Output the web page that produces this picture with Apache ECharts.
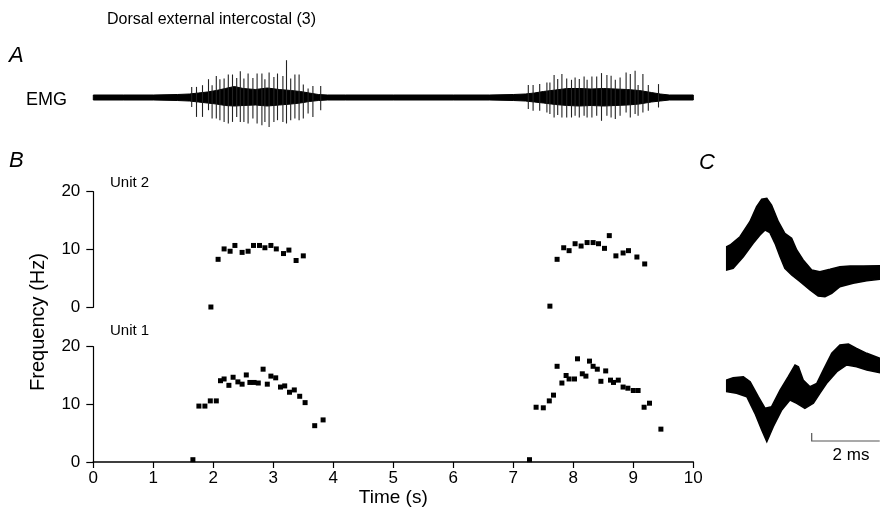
<!DOCTYPE html>
<html><head><meta charset="utf-8">
<script src="https://cdn.jsdelivr.net/npm/echarts@6/dist/echarts.min.js"></script>
<style>html,body{margin:0;padding:0;background:#fff}#c{width:880px;height:519px}</style>
</head><body><div id="c"></div>
<script>
// ---- Panel B: instantaneous frequency (Hz) vs time (s)
const unit2T = [1.96,2.08,2.18,2.28,2.36,2.48,2.58,2.67,2.77,2.86,2.96,3.05,3.17,3.26,3.38,3.50,
                7.61,7.73,7.84,7.93,8.03,8.13,8.23,8.33,8.42,8.52,8.60,8.71,8.83,8.92,9.06,9.19];
const unit2F = [0.05,8.3,10.1,9.7,10.7,9.5,9.7,10.7,10.7,10.3,10.7,10.1,9.3,9.9,8.1,8.9,
                0.2,8.3,10.3,9.8,11.0,10.6,11.2,11.2,11.0,10.2,12.4,8.9,9.4,9.8,8.7,7.5];
const unit1T = [1.66,1.76,1.86,1.95,2.05,2.12,2.18,2.26,2.33,2.41,2.48,2.55,2.61,2.68,2.75,2.83,2.90,2.96,3.04,3.12,3.19,3.27,3.35,3.44,3.53,3.69,3.83,
                7.27,7.38,7.50,7.60,7.67,7.73,7.81,7.88,7.93,8.02,8.07,8.15,8.21,8.27,8.33,8.40,8.46,8.54,8.62,8.67,8.75,8.83,8.91,9.00,9.08,9.18,9.27,9.46];
const unit1F = [0.4,9.7,9.7,10.6,10.6,14.1,14.4,13.3,14.7,13.9,13.5,15.1,13.8,13.8,13.7,16.1,13.5,14.9,14.6,13.0,13.2,12.1,12.5,11.4,10.3,6.3,7.3,
                0.4,9.5,9.4,10.6,11.6,16.6,13.7,15.0,14.4,14.4,17.9,15.3,14.9,17.5,16.6,16.1,14.0,15.8,14.2,13.8,14.2,13.0,12.8,12.4,12.4,9.5,10.2,5.7];
const timeTicks = [0,1,2,3,4,5,6,7,8,9,10];
const freqTicks = [0,10,20];

// ---- Panel A: EMG (arbitrary units) – background envelope and individual spikes
const emgEnvT    = [0,0.5,1.0,1.4,1.6,1.75,1.9,2.05,2.2,2.35,2.5,2.7,2.9,3.1,3.3,3.45,3.6,3.75,3.9,4.2,5,6,6.6,7.0,7.2,7.35,7.5,7.7,7.9,8.1,8.3,8.5,8.7,8.9,9.1,9.3,9.45,9.6,10];
const emgEnvUp   = [2.5,2.5,2.5,3,3.5,4.5,5.5,7,9,11,9,8,9.5,8,7,6,4.5,3,2.5,2.5,2.5,2.5,2.5,3,3.5,4.5,6,7.5,9,9,8.5,9,8.5,8,7,5,3.5,2.5,2.5];
const emgEnvDn   = [2.5,2.5,2.5,3,3.5,4.5,5.5,6.5,8,8.5,8,7.5,8.5,7.5,6.5,5.5,4,3,2.5,2.5,2.5,2.5,2.5,3,3.5,4.5,5.5,7,8,8.5,8,8.5,8,7.5,6.5,4.5,3.5,2.5,2.5];
const emgSpikeT  = [1.64,1.72,1.82,1.92,1.98,2.05,2.11,2.18,2.25,2.32,2.39,2.45,2.51,2.58,2.66,2.73,2.81,2.86,2.93,3.01,3.07,3.16,3.22,3.29,3.36,3.43,3.50,3.58,3.66,3.79,
                    7.25,7.33,7.44,7.56,7.61,7.68,7.74,7.81,7.89,7.97,8.03,8.10,8.18,8.23,8.31,8.39,8.47,8.56,8.63,8.70,8.78,8.88,8.95,9.03,9.08,9.16,9.25,9.42];
const emgSpikeUp = [10.6,10.6,12.3,18.3,12.3,21.6,18.3,19,23,23,19.6,26.3,19,24,19.6,24,24,18.3,25,20.6,24,21.6,37.3,19,23,23,13,9,11.6,11.6,
                    12.4,12.4,13.4,15,15,22.4,18.4,23.4,19,17.7,20,18.4,21,17.7,21,21,24.4,22.4,21.7,17.7,20,25,23.4,26.7,12.4,23.4,12.4,13.4];
const emgSpikeDn = [9.4,19.4,19.4,12.7,21,21,22.7,24.4,26,24.4,19.4,24.4,24.4,26,21,26,27.7,24.4,29.4,24.4,22.7,24.4,26,22.7,21,22.7,21,16,19.4,12.7,
                    11.6,13.3,13.3,15,16.6,20,17.6,20,20,20,18.3,20,18.3,20,20,18.3,23.3,18.3,20,21.6,18.3,15,20,16.6,18.3,15,13.3,10];

// ---- Panel C: superimposed spike waveforms (ms, arbitrary units) – envelope edges
const u2TopT = [0,0.10,0.39,0.68,0.88,1.03,1.18,1.32,1.52,1.71,1.91,2.06,2.25,2.50,2.74,3.04,3.33,3.63,4.02,4.50];
const u2TopV = [203.3,205,213.3,228.3,243.3,250.7,251.7,245,228.3,216.7,211.7,200,190,180,178.3,180.7,183.3,184,184,184.3];
const u2BotT = [0,0.19,0.49,0.78,0.98,1.13,1.27,1.42,1.57,1.71,1.91,2.16,2.45,2.69,2.89,3.09,3.33,3.72,4.12,4.50];
const u2BotV = [180,181.7,193.3,206.7,215,220,217.3,206.7,193.3,181.7,175,168.3,160,154,153.3,156.7,163.3,166.7,169.3,170.7];
const u1TopT = [0,0.19,0.49,0.69,0.93,1.13,1.32,1.57,1.81,2.01,2.11,2.25,2.45,2.65,2.84,3.09,3.33,3.58,3.82,4.12,4.50];
const u1TopV = [70,72.3,73.3,68.3,53.3,41.7,43.3,60,73.3,85,83.3,70,63.3,66.7,80,96.7,105,106,101.7,96.7,91.7];
const u1BotT = [0,0.29,0.59,0.83,1.03,1.18,1.37,1.62,1.86,2.06,2.30,2.55,2.74,2.94,3.24,3.53,3.82,4.12,4.50];
const u1BotV = [58.3,56.7,53.3,36.7,20,8.3,23.3,40,50,46.7,41.7,46.7,56.7,66.7,78.3,85,83.3,80,77.3];
const scaleBarMs = 2;

const FONT = '"Liberation Sans", Arial, Helvetica, sans-serif';
const chart = echarts.init(document.getElementById('c'), null, {renderer: 'canvas'});

function zip(a, b) { return a.map((v, i) => [v, b[i]]); }

function bandRender(topT, topV, botT, botV, color) {
  return function (params, api) {
    const pts = [];
    for (let i = 0; i < topT.length; i++) pts.push(api.coord([topT[i], topV[i]]));
    for (let i = botT.length - 1; i >= 0; i--) pts.push(api.coord([botT[i], botV[i]]));
    return {type: 'polygon', shape: {points: pts}, style: {fill: color, stroke: color, lineWidth: 1.5}};
  };
}

const hiddenX = (idx, max) => ({gridIndex: idx, type: 'value', min: 0, max: max, show: false});
const freqAxis = (idx) => ({
  gridIndex: idx, type: 'value', min: 0, max: 20, interval: 10,
  axisLine: {show: true, lineStyle: {color: '#000', width: 1.2}},
  axisTick: {show: true, length: 7, lineStyle: {color: '#000', width: 1.2}},
  axisLabel: {color: '#000', fontSize: 17, fontFamily: FONT, margin: 13,
              formatter: v => freqTicks.includes(v) ? String(v) : ''},
  splitLine: {show: false}
});

chart.setOption({
  animation: false,
  backgroundColor: '#fff',
  grid: [
    {left: 93.3, top: 55, width: 600, height: 85},
    {left: 93.3, top: 191.7, width: 600, height: 115.6},
    {left: 93.3, top: 346.7, width: 600, height: 115.3},
    {left: 726.7, top: 180, width: 153, height: 270}
  ],
  xAxis: [
    hiddenX(0, 10),
    hiddenX(1, 10),
    {gridIndex: 2, type: 'value', min: 0, max: 10, interval: 1,
     name: 'Time (s)', nameLocation: 'middle', nameGap: 19,
     nameTextStyle: {color: '#000', fontSize: 19, fontFamily: FONT, verticalAlign: 'top'},
     axisLine: {show: true, lineStyle: {color: '#000', width: 1.6}},
     axisTick: {show: true, length: 6, lineStyle: {color: '#000', width: 1.2}},
     axisLabel: {color: '#000', fontSize: 17, fontFamily: FONT, margin: 8,
                 formatter: v => timeTicks.includes(v) ? String(v) : ''},
     splitLine: {show: false}},
    hiddenX(3, 4.5)
  ],
  yAxis: [
    {gridIndex: 0, type: 'value', min: -42.5, max: 42.5, show: false},
    freqAxis(1),
    freqAxis(2),
    {gridIndex: 3, type: 'value', min: 0, max: 270, show: false}
  ],
  graphic: [
    {type: 'text', x: 107, y: 20, style: {text: 'Dorsal external intercostal (3)', font: '16px ' + FONT, fill: '#000', verticalAlign: 'middle'}},
    {type: 'text', x: 9, y: 56, style: {text: 'A', font: 'italic 22px ' + FONT, fill: '#000', verticalAlign: 'middle'}},
    {type: 'text', x: 26, y: 100, style: {text: 'EMG', font: '18px ' + FONT, fill: '#000', verticalAlign: 'middle'}},
    {type: 'text', x: 9, y: 161, style: {text: 'B', font: 'italic 22px ' + FONT, fill: '#000', verticalAlign: 'middle'}},
    {type: 'text', x: 699, y: 163, style: {text: 'C', font: 'italic 22px ' + FONT, fill: '#000', verticalAlign: 'middle'}},
    {type: 'text', x: 110, y: 183, style: {text: 'Unit 2', font: '15px ' + FONT, fill: '#000', verticalAlign: 'middle'}},
    {type: 'text', x: 110, y: 331, style: {text: 'Unit 1', font: '15px ' + FONT, fill: '#000', verticalAlign: 'middle'}},
    {type: 'text', x: 38, y: 322, rotation: Math.PI / 2,
     style: {text: 'Frequency (Hz)', font: '20px ' + FONT, fill: '#000', align: 'center', verticalAlign: 'middle'}},
    {type: 'text', x: 851, y: 455, style: {text: '2 ms', font: '17px ' + FONT, fill: '#000', align: 'center', verticalAlign: 'middle'}}
  ],
  series: [
    // EMG background band
    {type: 'custom', xAxisIndex: 0, yAxisIndex: 0, data: [[0, 0]], encode: {x: 0, y: 1}, silent: true,
     renderItem: function (params, api) {
       const pts = [];
       for (let i = 0; i < emgEnvT.length; i++) pts.push(api.coord([emgEnvT[i], emgEnvUp[i]]));
       for (let i = emgEnvT.length - 1; i >= 0; i--) pts.push(api.coord([emgEnvT[i], -emgEnvDn[i]]));
       return {type: 'polygon', shape: {points: pts}, style: {fill: '#000', stroke: '#000', lineWidth: 1}};
     }},
    // EMG spikes
    {type: 'custom', xAxisIndex: 0, yAxisIndex: 0, encode: {x: 0, y: 1}, silent: true,
     data: emgSpikeT.map((t, i) => [t, emgSpikeUp[i], emgSpikeDn[i]]),
     renderItem: function (params, api) {
       const t = api.value(0);
       const p1 = api.coord([t, api.value(1)]);
       const p2 = api.coord([t, -api.value(2)]);
       return {type: 'line', shape: {x1: p1[0], y1: p1[1], x2: p2[0], y2: p2[1]},
               style: {stroke: '#222', lineWidth: 1.1}};
     }},
    // Unit 2
    {type: 'scatter', xAxisIndex: 1, yAxisIndex: 1, symbol: 'rect', symbolSize: 5,
     itemStyle: {color: '#000', opacity: 1}, data: zip(unit2T, unit2F)},
    // Unit 1
    {type: 'scatter', xAxisIndex: 2, yAxisIndex: 2, symbol: 'rect', symbolSize: 5,
     itemStyle: {color: '#000', opacity: 1}, data: zip(unit1T, unit1F)},
    // Waveforms
    {type: 'custom', xAxisIndex: 3, yAxisIndex: 3, data: [[0, 0]], encode: {x: 0, y: 1}, silent: true,
     renderItem: bandRender(u2TopT, u2TopV, u2BotT, u2BotV, '#000')},
    {type: 'custom', xAxisIndex: 3, yAxisIndex: 3, data: [[0, 0]], encode: {x: 0, y: 1}, silent: true,
     renderItem: bandRender(u1TopT, u1TopV, u1BotT, u1BotV, '#000')},
    // Scale bar
    {type: 'custom', xAxisIndex: 3, yAxisIndex: 3, data: [[2.5, 9]], encode: {x: 0, y: 1}, silent: true,
     renderItem: function (params, api) {
       const x0 = api.value(0), y0 = api.value(1);
       const pts = [api.coord([x0, y0 + 8]), api.coord([x0, y0]), api.coord([x0 + scaleBarMs, y0])];
       return {type: 'polyline', shape: {points: pts}, style: {stroke: '#555', lineWidth: 1.2, fill: null}};
     }}
  ]
});
</script>
</body></html>
